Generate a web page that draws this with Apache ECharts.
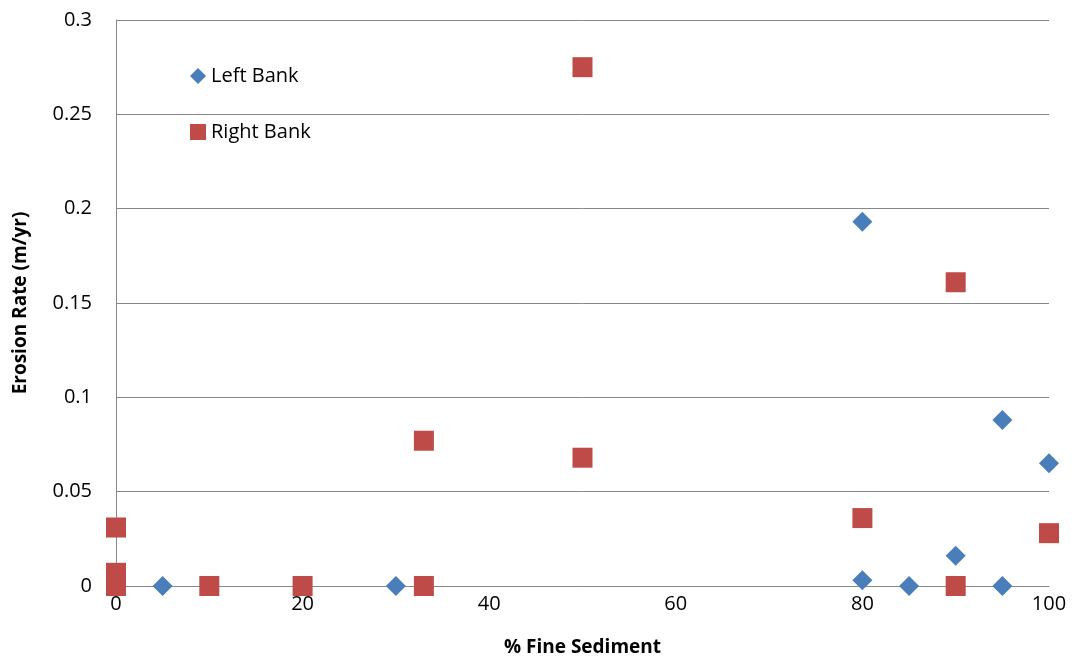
<!DOCTYPE html>
<html><head><meta charset="utf-8">
<script src="https://cdn.jsdelivr.net/npm/echarts@6/dist/echarts.min.js"></script>
<style>html,body{margin:0;padding:0;background:#fff}#c{width:1081px;height:660px}</style>
</head><body><div id="c"></div>
<script>
const leftBankX = [5, 30, 80, 80, 85, 90, 95, 95, 100];
const leftBankY = [0, 0, 0.193, 0.003, 0, 0.016, 0.088, 0, 0.065];
const rightBankX = [0, 0, 0, 10, 20, 33, 33, 50, 50, 80, 90, 90, 100];
const rightBankY = [0.031, 0.007, 0, 0, 0, 0, 0.077, 0.275, 0.068, 0.036, 0.161, 0, 0.028];
const xTicks = [0, 20, 40, 60, 80, 100];
const yTicks = [0, 0.05, 0.1, 0.15, 0.2, 0.25, 0.3];

const pairs = (xs, ys) => xs.map((x, i) => [x, ys[i]]);
const FONT = '"Open Sans", sans-serif';
const chart = echarts.init(document.getElementById('c'));
chart.setOption({
  animation: false,
  textStyle: { fontFamily: FONT },
  grid: { left: 116, right: 32, top: 20, bottom: 74, containLabel: false, outerBoundsMode: 'none' },
  legend: {
    orient: 'vertical', left: 185, top: 61, itemGap: 36, itemWidth: 16, itemHeight: 16,
    textStyle: { fontSize: 20, color: '#000', fontFamily: FONT },
    data: [{ name: 'Left Bank', icon: 'diamond' }, { name: 'Right Bank', icon: 'rect' }]
  },
  xAxis: {
    type: 'value', min: 0, max: 100, interval: 20,
    name: '% Fine Sediment', nameLocation: 'middle', nameGap: 52,
    nameTextStyle: { fontSize: 19, fontWeight: 'bold', color: '#000', fontFamily: FONT },
    axisLine: { show: true, lineStyle: { color: '#888' } },
    axisTick: { show: false },
    axisLabel: { fontSize: 20, color: '#000', margin: 8, formatter: v => xTicks.includes(v) ? String(v) : '' },
    splitLine: { show: false }
  },
  yAxis: {
    type: 'value', min: 0, max: 0.3, interval: 0.05,
    name: 'Erosion Rate (m/yr)', nameLocation: 'middle', nameGap: 86, nameRotate: 90,
    nameTextStyle: { fontSize: 19, fontWeight: 'bold', color: '#000', fontFamily: FONT },
    axisLine: { show: true, lineStyle: { color: '#888' } },
    axisTick: { show: false },
    axisLabel: { fontSize: 20, color: '#000', margin: 24, formatter: v => {
      const t = yTicks.find(k => Math.abs(k - v) < 1e-9); return t === undefined ? '' : String(t);
    } },
    splitLine: { show: true, lineStyle: { color: '#888', width: 1 } }
  },
  series: [
    { name: 'Left Bank', type: 'scatter', symbol: 'diamond', symbolSize: 20,
      itemStyle: { color: '#4A7EBB', opacity: 1 }, data: pairs(leftBankX, leftBankY), z: 3 },
    { name: 'Right Bank', type: 'scatter', symbol: 'rect', symbolSize: 20,
      itemStyle: { color: '#BE4B48', opacity: 1 }, data: pairs(rightBankX, rightBankY), z: 2 }
  ]
});
</script></body></html>
